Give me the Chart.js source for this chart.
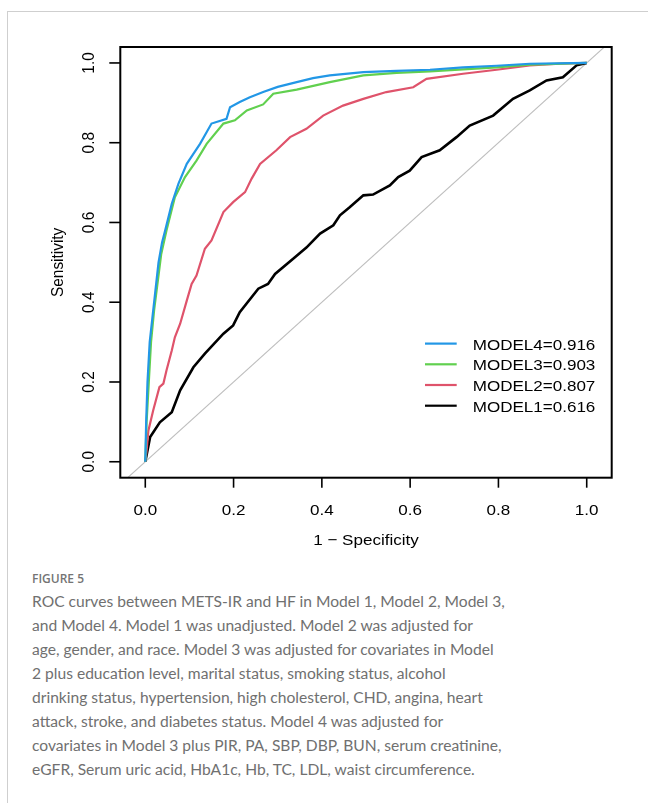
<!DOCTYPE html>
<html>
<head>
<meta charset="utf-8">
<script src="https://cdn.jsdelivr.net/npm/chart.js@4"></script>
<style>
  html, body { margin: 0; padding: 0; background: #ffffff; }
  body { width: 648px; height: 803px; position: relative; overflow: hidden; }
  #frame { position: absolute; left: 7px; top: 11px; width: 700px; height: 900px;
           border-top: 1px solid #cfcfcf; border-left: 1px solid #cfcfcf; }
  #chartWrap { position: absolute; left: 0; top: 0; width: 648px; height: 560px; }
  #figLabel { position: absolute; left: 32px; top: 570px; font-family: "Open Sans", sans-serif;
              font-weight: 600; font-size: 12px; color: #747474; white-space: nowrap; }
  #caption { position: absolute; left: 32px; top: 589px; font-family: Lato, sans-serif;
             font-size: 15.6px; line-height: 24px; color: #707070; white-space: nowrap; }
</style>
</head>
<body>
<div id="frame"></div>
<div id="chartWrap"><canvas id="c" width="648" height="560"></canvas></div>
<div id="figLabel">FIGURE 5</div>
<div id="caption">ROC curves between METS-IR and HF in Model 1, Model 2, Model 3,<br>and Model 4. Model 1 was unadjusted. Model 2 was adjusted for<br>age, gender, and race. Model 3 was adjusted for covariates in Model<br>2 plus education level, marital status, smoking status, alcohol<br>drinking status, hypertension, high cholesterol, CHD, angina, heart<br>attack, stroke, and diabetes status. Model 4 was adjusted for<br>covariates in Model 3 plus PIR, PA, SBP, DBP, BUN, serum creatinine,<br>eGFR, Serum uric acid, HbA1c, Hb, TC, LDL, waist circumference.</div>
<script>
// ---- data (1 - specificity, sensitivity) ----
const model4Fpr = [0,0.002,0.005,0.010,0.016,0.022,0.030,0.038,0.045,0.060,0.075,0.094,0.124,0.150,0.184,0.192,0.214,0.237,0.267,0.300,0.343,0.380,0.418,0.494,0.569,0.645,0.720,0.796,0.871,1];
const model4Tpr = [0,0.100,0.200,0.300,0.360,0.420,0.500,0.550,0.580,0.647,0.697,0.747,0.797,0.848,0.860,0.889,0.902,0.914,0.927,0.940,0.952,0.962,0.969,0.977,0.980,0.983,0.989,0.993,0.998,1];

const model3Fpr = [0,0.003,0.008,0.013,0.020,0.028,0.036,0.048,0.067,0.090,0.116,0.139,0.177,0.203,0.230,0.267,0.290,0.343,0.418,0.494,0.569,0.645,0.720,0.796,0.871,1];
const model3Tpr = [0,0.100,0.200,0.300,0.380,0.450,0.520,0.580,0.663,0.714,0.755,0.797,0.848,0.856,0.881,0.896,0.923,0.933,0.952,0.969,0.975,0.979,0.984,0.989,0.996,1];

const model2Fpr = [0,0.003,0.007,0.018,0.032,0.041,0.048,0.060,0.067,0.079,0.094,0.105,0.116,0.135,0.150,0.177,0.199,0.226,0.241,0.260,0.297,0.328,0.365,0.403,0.448,0.494,0.546,0.607,0.637,0.720,0.796,0.871,0.939,1];
const model2Tpr = [0,0.028,0.078,0.129,0.187,0.196,0.229,0.279,0.312,0.346,0.404,0.446,0.467,0.534,0.555,0.626,0.651,0.676,0.710,0.747,0.781,0.814,0.835,0.868,0.893,0.910,0.927,0.939,0.960,0.973,0.983,0.994,0.998,1];

const model1Fpr = [0,0.011,0.033,0.060,0.079,0.109,0.135,0.177,0.199,0.214,0.256,0.278,0.294,0.339,0.365,0.396,0.426,0.441,0.463,0.494,0.516,0.554,0.573,0.599,0.626,0.667,0.705,0.735,0.788,0.833,0.871,0.909,0.946,0.977,1];
const model1Tpr = [0,0.062,0.099,0.124,0.179,0.237,0.271,0.321,0.342,0.375,0.434,0.446,0.471,0.513,0.537,0.572,0.593,0.618,0.638,0.668,0.670,0.693,0.714,0.730,0.764,0.781,0.814,0.843,0.868,0.910,0.931,0.956,0.964,0.994,1];

const diagonal = [-0.1, 1.1];

const modelNames = ["MODEL4", "MODEL3", "MODEL2", "MODEL1"];
const aucValues = ["0.916", "0.903", "0.807", "0.616"];
const xTicks = [0, 0.2, 0.4, 0.6, 0.8, 1.0];
const yTicks = [0, 0.2, 0.4, 0.6, 0.8, 1.0];

// ---- build ----
const toPts = (xs, ys) => xs.map((x, i) => ({ x: x, y: ys[i] }));
const colors = { MODEL4: "#2297E6", MODEL3: "#61D04F", MODEL2: "#DF536B", MODEL1: "#000000" };
const series = { MODEL4: toPts(model4Fpr, model4Tpr), MODEL3: toPts(model3Fpr, model3Tpr),
                 MODEL2: toPts(model2Fpr, model2Tpr), MODEL1: toPts(model1Fpr, model1Tpr) };

const datasets = modelNames.map((n, i) => ({
  label: n + "=" + aucValues[i],
  data: series[n],
  borderColor: colors[n],
  borderWidth: n === "MODEL1" ? 2.6 : 2.2,
  pointRadius: 0,
  tension: 0,
  fill: false,
  order: i + 1
}));
datasets.push({ label: "ref", data: toPts(diagonal, diagonal), borderColor: "#BEBEBE",
  borderWidth: 1.1, pointRadius: 0, tension: 0, fill: false, order: 10 });

const SX = 1.107; // horizontal stretch of the original raster
const FONT = "15.4px 'Liberation Sans', Arial, sans-serif";

function stretchedText(ctx, txt, x, y, align, rotate) {
  ctx.save();
  ctx.translate(x, y);
  ctx.scale(SX, 1);
  if (rotate) ctx.rotate(-Math.PI / 2);
  ctx.textAlign = align;
  ctx.textBaseline = "alphabetic";
  ctx.fillText(txt, 0, 0);
  ctx.restore();
}

const rDecor = {
  id: "rDecor",
  afterDraw(chart) {
    const ctx = chart.ctx, a = chart.chartArea;
    const xs = chart.scales.x, ys = chart.scales.y;
    ctx.save();
    ctx.strokeStyle = "#000"; ctx.fillStyle = "#000";
    // box
    ctx.lineWidth = 2;
    ctx.strokeRect(a.left, a.top, a.right - a.left, a.bottom - a.top);
    ctx.font = FONT;
    ctx.lineWidth = 1.6;
    // x ticks
    xTicks.forEach(v => {
      const p = xs.getPixelForValue(v);
      ctx.beginPath(); ctx.moveTo(p, a.bottom); ctx.lineTo(p, a.bottom + 10); ctx.stroke();
      stretchedText(ctx, v.toFixed(1), p, a.bottom + 37.3, "center", false);
    });
    // y ticks
    yTicks.forEach(v => {
      const p = ys.getPixelForValue(v);
      ctx.beginPath(); ctx.moveTo(a.left, p); ctx.lineTo(a.left - 11, p); ctx.stroke();
      stretchedText(ctx, v.toFixed(1), a.left - 26, p, "center", true);
    });
    // axis titles
    stretchedText(ctx, "1 \u2212 Specificity", (a.left + a.right) / 2, a.bottom + 67.3, "center", false);
    stretchedText(ctx, "Sensitivity", a.left - 57.3, (a.top + a.bottom) / 2, "center", true);
    // legend
    modelNames.forEach((n, i) => {
      const base = a.top + 302.6 + i * 20.7;
      const ly = base - 6;
      ctx.strokeStyle = colors[n];
      ctx.lineWidth = 2.2;
      ctx.beginPath(); ctx.moveTo(a.right - 186.7, ly); ctx.lineTo(a.right - 155, ly); ctx.stroke();
      ctx.fillStyle = "#000";
      stretchedText(ctx, n + "=" + aucValues[i], a.right - 139, base, "left", false);
    });
    ctx.restore();
  }
};

new Chart(document.getElementById("c"), {
  type: "line",
  data: { datasets: datasets },
  options: {
    responsive: false,
    animation: false,
    events: [],
    layout: { padding: { left: 120.3, top: 47, right: 36.3, bottom: 82.3 } },
    plugins: { legend: { display: false }, tooltip: { enabled: false } },
    scales: {
      x: { type: "linear", min: -0.0566, max: 1.0566, display: false },
      y: { type: "linear", min: -0.04, max: 1.04, display: false }
    }
  },
  plugins: [rDecor]
});
</script>
</body>
</html>
